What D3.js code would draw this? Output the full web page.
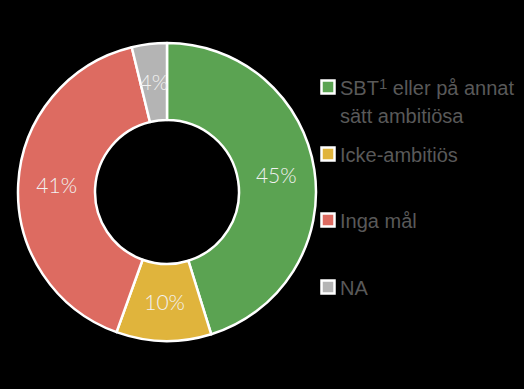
<!DOCTYPE html>
<html><head><meta charset="utf-8">
<script src="https://cdn.jsdelivr.net/npm/d3@7"></script>
<style>html,body{margin:0;padding:0;background:#000;}svg{display:block;}</style>
</head><body>
<svg id="chart" width="524" height="389"></svg>
<script>
const categories = ["SBT¹ eller på annat sätt ambitiösa", "Icke-ambitiös", "Inga mål", "NA"];
const values = [45.2, 10.3, 40.7, 3.8];
const colors = ["#5BA352", "#E0B43C", "#DD6B61", "#B4B4B4"];
const legendLines = [["SBT", "1", " eller på annat", "sätt ambitiösa"], ["Icke-ambitiös"], ["Inga mål"], ["NA"]];

const svg = d3.select("#chart");
svg.append("rect").attr("width", 524).attr("height", 389).attr("fill", "#000");

const cx = 167, cy = 192, rOuter = 149, rInner = 72;
const data = categories.map((c, i) => ({ name: c, value: values[i], color: colors[i] }));
const pie = d3.pie().value(d => d.value).sort(null);
const arc = d3.arc().innerRadius(rInner).outerRadius(rOuter);
const g = svg.append("g").attr("transform", `translate(${cx},${cy})`);
const arcs = pie(data);
g.selectAll("path").data(arcs).join("path")
  .attr("d", arc).attr("fill", d => d.data.color)
  .attr("stroke", "#fff").attr("stroke-width", 2.5).attr("stroke-linejoin", "round");
g.selectAll("text").data(arcs).join("text")
  .attr("transform", d => `translate(${arc.centroid(d)})`)
  .attr("text-anchor", "middle").attr("dy", "0.35em")
  .attr("font-family", "Lato, sans-serif").attr("font-weight", 300).attr("font-size", 21)
  .attr("fill", "#F2F2F2")
  .text(d => Math.round(d.data.value) + "%");

const legY = [88, 155, 221, 288];
const lg = svg.append("g");
const legFont = "'Liberation Sans Narrow', 'Arial Narrow', 'Liberation Sans', sans-serif";
data.forEach((d, i) => {
  lg.append("rect").attr("x", 321.5).attr("y", legY[i] - 7.5).attr("width", 13).attr("height", 13)
    .attr("fill", d.color).attr("stroke", "#fff").attr("stroke-width", 2.5);
  const t = lg.append("text").attr("x", 340).attr("y", legY[i] + 7)
    .attr("font-family", legFont).attr("font-size", 20).attr("fill", "#595959");
  const L = legendLines[i];
  if (L.length > 1) {
    t.append("tspan").text(L[0]);
    t.append("tspan").attr("dy", -6).attr("font-size", 15).text(L[1]);
    t.append("tspan").attr("dy", 6).text(L[2]);
    lg.append("text").attr("x", 340).attr("y", legY[i] + 35)
      .attr("font-family", legFont).attr("font-size", 20).attr("fill", "#595959").text(L[3]);
  } else {
    t.text(L[0]);
  }
});
</script>
</body></html>
